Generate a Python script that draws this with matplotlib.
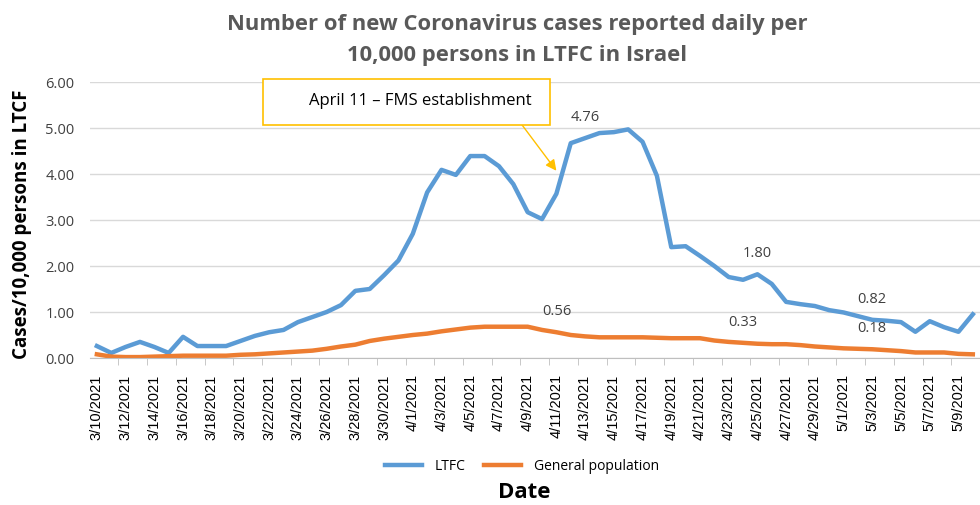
import matplotlib
matplotlib.use("Agg")
import matplotlib.pyplot as plt
from matplotlib.patches import Rectangle
import pandas as pd

# daily values, 3/10/2021 .. 5/10/2021
dates = pd.date_range("2021-03-10", "2021-05-10", freq="D")
date_labels = [f"{d.month}/{d.day}/{d.year}" for d in dates]

ltfc = [0.26, 0.11, 0.24, 0.35, 0.24, 0.11, 0.46, 0.26, 0.26, 0.26,
        0.37, 0.48, 0.56, 0.61, 0.78, 0.89, 1.00, 1.15, 1.46, 1.50,
        1.80, 2.12,
        2.70, 3.60, 4.09, 3.98, 4.39, 4.39, 4.17, 3.78, 3.17, 3.02,
        3.57, 4.67, 4.78, 4.89, 4.91, 4.97, 4.70, 3.96, 2.41, 2.43,
        2.22, 2.00, 1.76, 1.70, 1.82, 1.61, 1.22, 1.17, 1.13, 1.04,
        0.99, 0.91, 0.83, 0.81, 0.78, 0.57, 0.80, 0.67, 0.57, 0.95]

general = [0.08, 0.03, 0.02, 0.02, 0.03, 0.04, 0.05, 0.05, 0.05, 0.05,
           0.07, 0.08, 0.10, 0.12, 0.14, 0.16, 0.20, 0.25, 0.29, 0.37,
           0.42, 0.46,
           0.50, 0.53, 0.58, 0.62, 0.66, 0.68, 0.68, 0.68, 0.68, 0.61,
           0.56, 0.50, 0.47, 0.45, 0.45, 0.45, 0.45, 0.44, 0.43, 0.43,
           0.43, 0.38, 0.35, 0.33, 0.31, 0.30, 0.30, 0.28, 0.25, 0.23,
           0.21, 0.20, 0.19, 0.17, 0.15, 0.12, 0.12, 0.12, 0.09, 0.08]

# data labels: (date, text, y position)
point_labels = [("4/13/2021", "4.76", 5.24),
                ("4/25/2021", "1.80", 2.30),
                ("4/11/2021", "0.56", 1.04),
                ("4/24/2021", "0.33", 0.80),
                ("5/3/2021", "0.82", 1.30),
                ("5/3/2021", "0.18", 0.67)]

blue = "#5B9BD5"
orange = "#ED7D31"
gold = "#FFC000"
font = ["Open Sans", "DejaVu Sans"]

fig = plt.figure(figsize=(9.8, 5.06), dpi=100)
ax = fig.add_axes([89.7 / 980, 1 - 359 / 506, (980 - 89.7) / 980, (359 - 83) / 506])

x = list(range(len(dates)))
ax.plot(x, ltfc, color=blue, lw=3.2, label="LTFC")
ax.plot(x, general, color=orange, lw=3.2, label="General population")

ax.set_ylim(0, 6)
ax.set_xlim(-0.5, 60.69)
ax.set_yticks([0, 1, 2, 3, 4, 5, 6])
ax.set_yticklabels([f"{v:.2f}" for v in range(7)], family=font, fontsize=10.5, color="#404040")
ax.tick_params(axis="y", length=0, pad=11)
ax.grid(axis="y", color="#D9D9D9", lw=1)
ax.set_axisbelow(True)

ax.set_xticks(x[::2])
ax.set_xticklabels(date_labels[::2], rotation=90, family=["Liberation Sans"], fontsize=10.5, color="#000000")
ax.set_xticks([i + 0.5 for i in range(1, len(dates), 2)], minor=True)
ax.tick_params(axis="x", which="major", length=0, pad=11)
ax.tick_params(axis="x", which="minor", length=5, color="#BFBFBF")

for s in ["top", "right", "left"]:
    ax.spines[s].set_visible(False)
ax.spines["bottom"].set_color("#BFBFBF")

for d, txt, yv in point_labels:
    ax.text(date_labels.index(d), yv, txt, ha="center", va="center",
            family=font, fontsize=10.5, color="#404040")

# annotation box with arrow
ax.annotate("", xy=(date_labels.index("4/11/2021"), 4.07), xytext=(29.6, 5.07),
            arrowprops=dict(arrowstyle="-|>", color=gold, lw=1, mutation_scale=16,
                            shrinkA=0, shrinkB=0))
fig.patches.append(Rectangle((263 / 980, 1 - 126 / 506), 287 / 980, 46 / 506,
                             transform=fig.transFigure, fc="white", ec=gold, lw=1.2))
fig.text(420 / 980, 1 - 101 / 506, "April 11 \u2013 FMS establishment", ha="center", va="center",
         family=font, fontsize=12, color="#000000")

fig.text(517 / 980, 1 - 40 / 506, "Number of new Coronavirus cases reported daily per\n10,000 persons in LTFC in Israel",
         ha="center", va="center", family=font, fontsize=15.8, fontweight="bold",
         color="#595959", linespacing=1.65)

fig.text(22 / 980, 1 - 224 / 506, "Cases/10,000 persons in LTCF", rotation=90, ha="center", va="center",
         family=font, fontsize=13.5, fontweight="bold", color="#000000")

fig.text(524 / 980, 1 - 493 / 506, "Date", ha="center", va="center",
         family=font, fontsize=16, fontweight="bold", color="#000000")

fig.legend(loc="center", bbox_to_anchor=(522 / 980, 1 - 467 / 506), ncol=2, frameon=False,
           prop={"family": font, "size": 10}, handlelength=2.7, handletextpad=0.9,
           columnspacing=1.3)

fig.savefig("out.png", dpi=100)
